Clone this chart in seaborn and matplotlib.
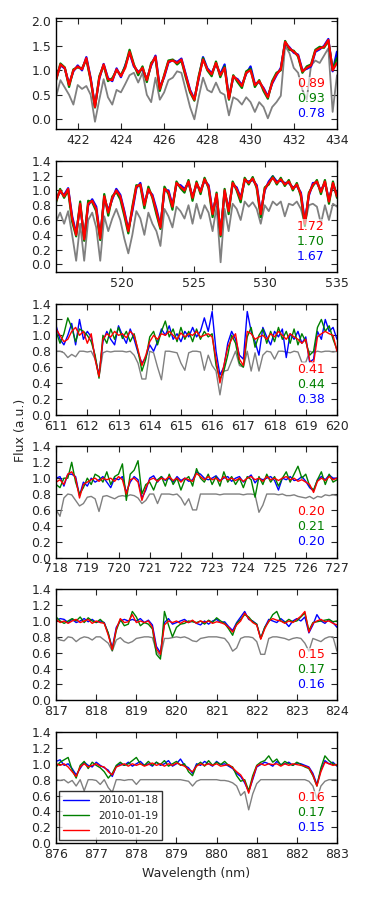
import numpy as np
import pandas as pd
import matplotlib
matplotlib.use("Agg")
import matplotlib.pyplot as plt
import seaborn as sns

dates = ["2010-01-18", "2010-01-19", "2010-01-20"]
colors = {"2010-01-18": "blue", "2010-01-19": "green", "2010-01-20": "red"}

# --- panel 1 : 421-434 nm
gray_1 = [0.46,0.80,0.65,0.50,0.30,0.70,0.62,0.68,0.50,-0.05,
          0.40,0.82,0.45,0.30,0.60,0.55,0.72,0.90,0.95,0.75,
          0.95,0.50,0.35,0.85,0.40,0.55,0.80,0.85,0.98,0.95,
          0.60,0.25,0.00,0.45,0.85,0.60,0.55,0.75,0.55,0.50,
          0.08,0.45,0.40,0.30,0.45,0.35,0.15,0.35,0.25,0.02,
          0.25,0.35,0.48,1.50,1.35,1.05,0.95,0.60,0.40,1.10,
          1.20,1.15,1.30,1.45,0.15,0.90]
red_1 = [0.81,1.12,1.05,0.70,1.00,1.08,1.02,1.25,0.82,0.25,
         0.85,1.12,0.82,0.80,1.02,0.88,1.05,1.38,1.10,0.95,
         1.05,0.80,1.12,1.28,0.62,0.88,1.18,1.20,1.15,1.22,
         0.90,0.58,0.40,0.85,1.22,1.02,0.92,1.15,0.90,1.05,
         0.42,0.88,0.80,0.68,0.95,1.00,0.70,0.78,0.62,0.45,
         0.75,0.92,1.02,1.58,1.45,1.38,1.30,0.98,1.05,1.10,
         1.40,1.45,1.48,1.62,1.00,1.15]
green_1 = [0.80,1.14,1.06,0.66,1.02,1.06,1.04,1.22,0.80,0.24,
           0.88,1.10,0.78,0.84,1.00,0.90,1.08,1.42,1.12,0.90,
           1.08,0.76,1.15,1.25,0.58,0.90,1.20,1.22,1.12,1.20,
           0.86,0.55,0.38,0.88,1.25,1.00,0.88,1.18,0.86,1.08,
           0.40,0.90,0.76,0.64,0.98,1.03,0.66,0.80,0.58,0.42,
           0.78,0.95,1.00,1.60,1.42,1.40,1.28,0.95,1.08,1.12,
           1.42,1.48,1.46,1.60,1.02,1.25]
blue_1 = [0.83,1.10,1.04,0.72,0.98,1.10,1.00,1.27,0.84,0.27,
          0.83,1.13,0.84,0.78,1.04,0.86,1.10,1.36,1.08,0.97,
          1.02,0.82,1.10,1.30,0.65,0.86,1.16,1.21,1.17,1.24,
          0.92,0.60,0.42,0.83,1.27,1.04,0.94,1.13,0.92,1.12,
          0.44,0.86,0.82,0.70,0.93,1.08,0.72,0.76,0.64,0.47,
          0.73,0.90,1.05,1.56,1.47,1.36,1.32,1.00,1.03,1.08,
          1.38,1.43,1.50,1.64,0.98,1.38]

# --- panel 2 : 515.4-535 nm
gray_2 = [0.58,0.70,0.55,0.72,0.40,0.05,0.55,0.05,0.60,0.70,
          0.50,0.05,0.65,0.45,0.62,0.75,0.60,0.35,0.15,0.40,
          0.72,0.62,0.40,0.70,0.55,0.45,0.25,0.75,0.65,0.50,
          0.78,0.72,0.62,0.80,0.55,0.82,0.62,0.80,0.70,0.45,
          0.78,0.03,0.75,0.45,0.82,0.75,0.60,0.85,0.78,0.84,
          0.75,0.55,0.80,0.72,0.85,0.80,0.85,0.65,0.82,0.80,
          0.85,0.75,0.55,0.80,0.82,0.78,0.55,0.80,0.60,0.82,
          0.78]
red_2 = [0.86,1.00,0.92,1.02,0.62,0.40,0.82,0.34,0.82,0.86,
         0.75,0.35,0.92,0.70,0.90,1.00,0.92,0.70,0.45,0.75,
         1.05,1.08,0.80,1.02,0.92,0.72,0.50,1.02,0.98,0.78,
         1.10,1.05,1.00,1.12,0.90,1.10,0.98,1.15,1.05,0.68,
         0.95,0.40,1.00,0.72,1.10,1.02,0.88,1.15,1.10,1.16,
         1.05,0.68,1.02,1.10,1.17,1.10,1.15,1.08,1.12,1.02,
         1.08,0.95,0.55,0.95,1.08,1.12,0.98,1.12,0.85,1.10,
         0.92]
green_2 = [0.84,1.02,0.90,1.00,0.58,0.38,0.85,0.32,0.86,0.84,
           0.72,0.33,0.95,0.66,0.92,0.98,0.88,0.66,0.42,0.78,
           1.07,1.06,0.76,1.05,0.90,0.68,0.48,1.05,0.95,0.74,
           1.12,1.03,0.97,1.14,0.86,1.12,0.95,1.17,1.03,0.64,
           0.97,0.38,1.02,0.68,1.12,1.00,0.84,1.17,1.08,1.18,
           1.03,0.64,1.04,1.08,1.19,1.08,1.17,1.06,1.14,1.00,
           1.10,0.92,0.52,0.97,1.06,1.14,0.95,1.14,0.82,1.12,
           0.90]
blue_2 = [0.88,0.98,0.94,1.03,0.65,0.42,0.80,0.36,0.80,0.88,
          0.78,0.37,0.90,0.73,0.88,1.02,0.94,0.72,0.47,0.72,
          1.03,1.10,0.82,1.00,0.94,0.75,0.52,1.00,1.00,0.80,
          1.08,1.07,1.02,1.10,0.92,1.08,1.00,1.13,1.07,0.70,
          0.93,0.42,0.98,0.75,1.08,1.04,0.90,1.13,1.12,1.14,
          1.07,0.70,1.00,1.12,1.19,1.12,1.13,1.10,1.10,1.04,
          1.06,0.97,0.58,0.93,1.10,1.10,1.00,1.10,0.88,1.08,
          0.94]

# --- panel 3 : 611-620 nm
gray_3 = [0.80,0.80,0.78,0.72,0.76,0.73,0.80,0.80,0.79,0.80,
          0.70,0.48,0.78,0.80,0.79,0.80,0.80,0.80,0.79,0.80,
          0.75,0.65,0.45,0.45,0.80,0.78,0.60,0.44,0.80,0.80,
          0.79,0.78,0.65,0.56,0.78,0.80,0.80,0.79,0.56,0.75,
          0.62,0.55,0.25,0.55,0.56,0.68,0.80,0.62,0.60,0.80,
          0.55,0.78,0.55,0.75,0.80,0.79,0.70,0.80,0.80,0.79,
          0.78,0.80,0.79,0.66,0.66,0.80,0.78,0.80,0.79,0.80,
          0.80,0.79,0.80]
red_3 = [1.08,1.00,0.92,0.95,1.05,1.10,1.00,1.05,0.90,1.02,
         0.70,0.48,0.95,1.02,0.98,1.05,1.00,1.02,0.97,1.05,
         1.00,0.82,0.62,0.75,0.92,1.00,0.95,1.02,1.00,1.05,
         1.00,0.95,1.03,0.98,1.02,1.00,1.05,0.98,1.00,1.02,
         0.98,0.70,0.40,0.62,0.85,0.95,1.02,0.70,0.62,1.05,
         1.02,0.95,0.98,1.00,0.95,1.02,0.98,1.05,1.00,0.95,
         1.02,0.98,0.95,0.90,0.95,0.68,0.65,0.98,1.02,1.05,
         1.02,1.00,0.80]
green_3 = [1.05,0.90,1.02,1.22,1.10,0.92,1.08,1.05,1.00,0.92,
           0.75,0.46,1.00,0.90,1.08,0.95,1.10,0.96,1.05,0.92,
           1.02,0.80,0.55,0.70,0.98,1.05,0.88,1.05,1.18,0.98,
           1.08,0.92,1.10,0.95,1.05,0.92,1.08,0.95,1.05,0.98,
           1.02,0.62,0.45,0.55,0.75,1.00,0.90,0.65,0.60,0.98,
           1.10,0.85,1.00,1.08,0.90,1.05,0.92,1.10,0.95,1.05,
           0.90,1.08,0.88,1.02,0.92,0.75,0.80,1.10,1.20,1.05,
           1.12,0.95,0.82]
blue_3 = [1.12,0.95,0.88,1.00,1.15,0.88,1.20,0.95,1.05,0.98,
          0.72,0.50,0.92,1.05,0.95,0.88,1.12,1.00,0.90,1.08,
          0.95,0.78,0.65,0.72,0.88,0.80,0.92,1.08,1.00,1.12,
          0.95,1.02,0.92,1.05,0.98,1.10,0.98,1.05,1.22,1.05,
          1.30,0.80,0.50,0.60,0.90,1.05,0.95,0.75,0.70,1.30,
          1.05,0.92,0.75,1.10,0.98,0.88,1.05,0.98,1.08,0.72,
          1.02,0.95,1.05,0.90,0.98,0.66,0.70,1.05,0.95,1.20,
          1.05,1.10,0.95]

# --- panel 4 : 718-727 nm
gray_4 = [0.60,0.52,0.75,0.80,0.79,0.72,0.65,0.68,0.76,0.77,
          0.74,0.58,0.77,0.78,0.76,0.74,0.77,0.78,0.77,0.79,
          0.78,0.75,0.68,0.72,0.80,0.80,0.68,0.80,0.80,0.80,
          0.79,0.80,0.75,0.66,0.74,0.60,0.60,0.80,0.80,0.80,
          0.80,0.80,0.79,0.80,0.80,0.80,0.80,0.80,0.79,0.80,
          0.80,0.79,0.57,0.66,0.80,0.80,0.80,0.79,0.80,0.78,
          0.78,0.79,0.77,0.76,0.75,0.77,0.74,0.77,0.76,0.79,
          0.78,0.79,0.78]
red_4 = [0.95,0.98,0.92,1.05,1.08,1.00,0.75,0.92,0.95,0.98,
         1.00,0.96,1.00,0.98,1.00,0.96,1.02,0.98,0.80,0.98,
         1.00,0.95,0.72,0.88,0.98,1.00,0.96,1.00,0.98,1.02,
         0.97,1.00,0.95,1.00,0.98,0.96,1.06,1.02,0.98,1.02,
         0.98,1.00,0.96,1.02,0.98,1.00,0.97,1.00,0.96,1.00,
         1.02,0.98,1.00,0.96,1.02,0.98,1.00,0.97,1.00,1.02,
         0.98,1.00,0.96,0.98,0.95,0.92,0.82,0.96,1.00,0.97,
         1.02,0.98,1.00]
green_4 = [0.92,0.88,1.00,1.00,1.20,0.95,0.80,0.88,1.00,0.92,
           1.05,1.02,0.95,1.08,0.92,1.02,1.05,1.18,0.72,1.05,
           1.10,1.22,0.80,0.92,0.95,0.85,0.98,1.02,0.90,1.05,
           0.92,1.00,0.85,0.98,1.02,0.90,1.12,1.00,0.95,1.05,
           0.92,1.02,0.90,1.08,0.95,1.02,0.92,1.00,0.88,1.02,
           0.98,0.76,1.02,0.92,1.05,0.95,1.02,0.90,1.00,1.08,
           0.95,1.05,1.15,1.00,1.05,0.90,0.85,0.98,1.08,0.92,
           1.05,0.95,0.98]
blue_4 = [1.00,1.02,0.90,1.05,1.05,1.02,0.78,0.95,0.90,1.00,
          0.95,0.98,1.02,0.95,0.88,1.00,0.98,1.02,0.82,0.95,
          1.02,0.98,0.75,0.85,1.00,1.03,0.95,1.02,0.97,1.00,
          0.95,1.02,0.97,1.00,0.96,0.98,1.08,1.05,1.00,0.98,
          1.00,1.03,0.97,1.00,1.02,0.96,1.00,1.02,0.95,1.00,
          1.04,0.94,1.00,0.98,1.00,1.02,0.97,0.85,1.00,0.98,
          1.02,0.97,0.98,1.02,0.96,0.88,0.84,0.98,1.02,0.98,
          1.04,1.00,1.00]

# --- panel 5 : 817-824 nm
gray_5 = [0.80,0.76,0.75,0.80,0.79,0.74,0.78,0.80,0.79,0.76,
          0.80,0.80,0.76,0.72,0.62,0.76,0.79,0.74,0.72,0.74,
          0.78,0.79,0.80,0.80,0.79,0.62,0.55,0.78,0.78,0.79,
          0.80,0.79,0.80,0.78,0.75,0.74,0.78,0.79,0.80,0.80,
          0.80,0.79,0.78,0.72,0.62,0.66,0.78,0.80,0.80,0.79,
          0.74,0.58,0.58,0.78,0.80,0.80,0.79,0.78,0.76,0.78,
          0.79,0.78,0.72,0.62,0.78,0.76,0.74,0.78,0.80,0.80,
          0.62]
red_5 = [1.02,0.98,1.00,0.97,1.00,1.02,0.98,1.00,1.02,0.97,
         1.00,0.98,0.97,0.82,0.64,0.90,1.03,0.98,0.99,1.08,
         0.98,1.00,0.98,1.00,0.92,0.65,0.58,0.95,1.00,0.98,
         1.00,0.97,1.00,0.98,1.01,0.97,1.00,0.98,1.00,0.97,
         0.99,0.98,0.96,0.92,0.86,0.95,1.00,1.10,1.03,0.98,
         0.95,0.77,0.90,1.00,1.03,1.01,1.00,0.97,1.00,0.98,
         1.02,1.06,1.12,0.86,0.97,1.00,1.02,0.99,1.00,0.97,
         0.95]
green_5 = [1.05,1.00,0.97,1.00,1.03,1.00,1.05,0.98,1.04,1.00,
           0.98,1.02,0.97,0.85,0.63,0.88,1.02,0.94,0.96,1.12,
           1.05,0.94,0.98,0.96,0.90,0.58,0.52,1.12,0.95,0.80,
           0.92,0.96,0.97,1.00,0.99,0.98,1.00,0.96,1.01,0.98,
           1.04,1.00,0.97,0.90,0.82,0.97,1.02,1.08,1.05,0.99,
           0.96,0.78,0.92,0.99,1.08,1.12,1.00,0.98,1.02,0.99,
           1.00,1.05,1.10,0.88,0.98,0.99,1.00,1.01,1.02,0.99,
           1.00]
blue_5 = [1.00,1.03,1.02,0.98,1.02,0.98,1.00,1.03,0.99,1.02,
          0.98,1.00,0.98,0.84,0.66,0.92,1.00,1.02,1.00,1.02,
          1.00,1.03,0.98,1.01,0.95,0.68,0.60,0.98,1.03,0.96,
          0.98,1.00,1.02,0.98,1.00,0.97,0.95,1.00,0.96,1.00,
          1.02,0.98,0.99,0.93,0.88,0.98,1.05,1.12,1.02,1.00,
          0.96,0.78,0.92,1.02,1.00,0.98,1.03,0.99,0.93,1.00,
          1.03,1.00,1.05,0.85,0.95,1.08,1.00,0.97,1.02,0.98,
          0.92]

# --- panel 6 : 876-883 nm
gray_6 = [0.80,0.79,0.80,0.76,0.79,0.72,0.80,0.66,0.80,0.80,
          0.79,0.74,0.80,0.70,0.64,0.80,0.80,0.79,0.80,0.80,
          0.74,0.80,0.80,0.80,0.80,0.80,0.80,0.80,0.80,0.80,
          0.80,0.80,0.79,0.78,0.72,0.78,0.80,0.80,0.80,0.80,
          0.80,0.79,0.79,0.78,0.76,0.72,0.60,0.65,0.42,0.62,
          0.75,0.80,0.80,0.80,0.80,0.80,0.80,0.80,0.80,0.80,
          0.80,0.80,0.80,0.78,0.72,0.56,0.72,0.78,0.80,0.80,
          0.80]
red_6 = [1.00,0.98,1.00,0.96,0.90,0.84,0.96,1.00,0.96,0.98,
         1.00,0.97,0.96,0.90,0.86,0.96,0.98,1.00,0.97,1.00,
         0.98,1.00,0.97,0.99,1.01,0.98,1.00,0.97,1.00,0.98,
         1.01,0.99,0.97,0.93,0.90,0.97,1.00,0.98,1.00,0.98,
         1.00,0.97,0.98,0.99,0.95,0.90,0.86,0.78,0.63,0.82,
         0.97,1.00,0.98,1.00,0.99,1.00,0.97,1.00,0.98,1.00,
         0.99,0.98,0.97,0.95,0.86,0.72,0.90,1.02,1.00,0.98,
         0.99]
green_6 = [0.96,1.02,1.05,1.08,0.92,0.82,0.98,1.03,0.94,1.02,
           0.98,0.95,0.90,0.82,0.88,0.98,1.02,0.98,1.00,1.04,
           1.08,1.00,0.98,1.03,0.98,1.02,0.99,1.04,0.97,1.00,
           1.03,0.98,1.00,0.90,0.85,0.98,1.02,0.97,1.04,0.98,
           1.02,0.99,1.03,0.98,0.96,0.85,0.78,0.80,0.66,0.85,
           0.98,1.02,1.04,1.10,1.02,1.06,0.98,1.03,1.00,0.98,
           1.02,0.99,0.96,0.94,0.85,0.72,0.95,1.10,1.04,1.00,
           0.98]
blue_6 = [1.03,1.05,0.98,1.00,0.94,0.86,0.94,1.02,0.98,0.96,
          1.02,0.98,0.95,0.92,0.84,0.97,1.00,0.98,1.02,0.97,
          1.00,1.03,0.98,1.00,0.97,1.02,0.98,1.00,1.04,0.97,
          1.00,1.06,0.98,0.95,0.88,1.00,0.98,1.03,1.00,0.97,
          1.03,0.99,1.00,0.97,0.94,0.88,0.84,0.76,0.65,0.80,
          0.96,0.99,1.02,1.00,0.97,1.03,0.99,1.00,1.02,0.98,
          1.01,1.00,0.98,0.96,0.88,0.74,0.92,1.04,1.00,1.02,
          0.97]

# wavelength range of each panel
wl_ranges = [(421.0, 434.0), (515.4, 535.0), (611.0, 620.0),
             (718.0, 727.0), (817.0, 824.0), (876.0, 883.0)]
grays = [gray_1, gray_2, gray_3, gray_4, gray_5, gray_6]
reds = [red_1, red_2, red_3, red_4, red_5, red_6]
greens = [green_1, green_2, green_3, green_4, green_5, green_6]
blues = [blue_1, blue_2, blue_3, blue_4, blue_5, blue_6]

# numbers written in each panel (red, green, blue)
label_red = ["0.89", "1.72", "0.41", "0.20", "0.15", "0.16"]
label_green = ["0.93", "1.70", "0.44", "0.21", "0.17", "0.17"]
label_blue = ["0.78", "1.67", "0.38", "0.20", "0.16", "0.15"]

xticks = [np.arange(422, 435, 2), [520, 525, 530, 535], np.arange(611, 621),
          np.arange(718, 728), np.arange(817, 825), np.arange(876, 884)]
ylims = [(-0.2, 2.07), (-0.1, 1.4), (0, 1.4), (0, 1.4), (0, 1.4), (0, 1.4)]
yticks = [np.arange(0, 2.01, 0.5)] + [np.arange(0, 1.41, 0.2)] * 5

sns.set_style("ticks", {"xtick.direction": "in", "ytick.direction": "in",
                        "axes.edgecolor": "black"})
plt.rcParams["font.family"] = ["DejaVu Sans"]
plt.rcParams["font.size"] = 9
plt.rcParams["xtick.top"] = True
plt.rcParams["ytick.right"] = True
plt.rcParams["xtick.major.size"] = 4
plt.rcParams["ytick.major.size"] = 4
plt.rcParams["axes.linewidth"] = 1.0

fig, axes = plt.subplots(6, 1, figsize=(3.74, 8.97), dpi=100)
fig.subplots_adjust(left=0.15, right=0.901, top=0.980, bottom=0.060, hspace=0.285)

for i, ax in enumerate(axes):
    lo, hi = wl_ranges[i]
    wl = np.linspace(lo, hi, len(reds[i]))
    thick = i < 2
    df = pd.concat([
        pd.DataFrame({"Wavelength": wl, "Flux": blues[i], "Date": dates[0]}),
        pd.DataFrame({"Wavelength": wl, "Flux": greens[i], "Date": dates[1]}),
        pd.DataFrame({"Wavelength": wl, "Flux": reds[i], "Date": dates[2]}),
    ])
    sns.lineplot(x=wl, y=grays[i], color="grey", lw=1.3 if thick else 1.0, ax=ax)
    sns.lineplot(data=df, x="Wavelength", y="Flux", hue="Date", hue_order=dates,
                 palette=colors, estimator=None, sort=False,
                 lw=1.6 if thick else 1.0, legend=(i == 5), ax=ax)
    ax.set_xlim(lo, hi)
    ax.set_ylim(*ylims[i])
    ax.set_xticks(xticks[i])
    ax.set_yticks(yticks[i])
    ax.set_yticklabels(["%.1f" % v for v in yticks[i]])
    ax.set_xlabel("")
    ax.set_ylabel("")
    for y, s, c in zip([0.41, 0.275, 0.14],
                       [label_red[i], label_green[i], label_blue[i]],
                       ["red", "green", "blue"]):
        ax.text(0.957, y, s, transform=ax.transAxes, ha="right", va="center",
                color=c, fontsize=9,
                bbox=dict(fc="white", ec="none", alpha=0.6, pad=0.3))

leg = axes[5].legend(loc="lower left", fontsize=7.5, frameon=True, fancybox=False,
                     edgecolor="black", handlelength=2.5, borderaxespad=0.3)
leg.get_frame().set_linewidth(1.0)
for line in leg.get_lines():
    line.set_linewidth(1.0)

axes[5].set_xlabel("Wavelength (nm)", fontsize=9)
fig.text(0.055, 0.52, "Flux (a.u.)", rotation=90, va="center", ha="center", fontsize=9)

fig.savefig("out.png", dpi=100)
